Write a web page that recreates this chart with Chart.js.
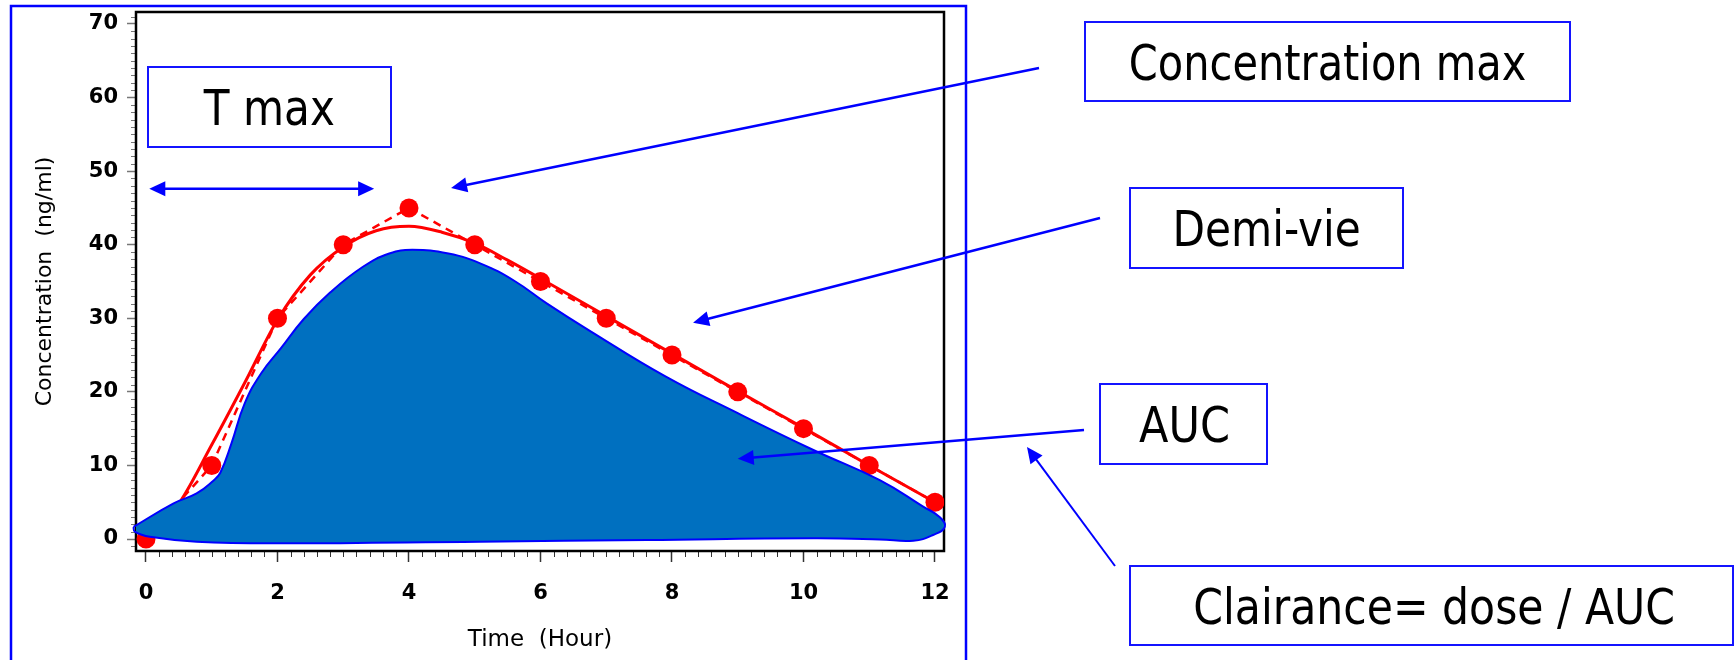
<!DOCTYPE html>
<html>
<head>
<meta charset="utf-8">
<script src="https://cdn.jsdelivr.net/npm/chart.js@4.4.1/dist/chart.umd.min.js"></script>
<style>
  html, body { margin: 0; padding: 0; background: #fff; }
</style>
</head>
<body>
<canvas id="pk" width="1735" height="660"></canvas>
<script>
// Observed concentrations (ng/ml) at each sampling time (hours)
const timeHours = [0, 1, 2, 3, 4, 5, 6, 7, 8, 9, 10, 11, 12];
const concObserved = [0, 10, 30, 40, 45, 40, 35, 30, 25, 20, 15, 10, 5];

// Fitted model curve (solid red)
const fitTime = [0, 0.5, 1, 1.5, 2, 2.5, 3, 3.5, 4, 4.5, 5, 5.5, 6, 7, 8, 9, 10, 11, 12];
const fitConc = [0, 4.8, 12.8, 21.2, 29.8, 35.9, 39.7, 41.9, 42.5, 41.7, 40.2, 37.9, 35.4, 30.3, 25.2, 20.1, 15.1, 10.0, 5.0];

// Hand drawn AUC outline (closed, starts and ends at the left tip)
const aucTime = [-0.19, 0.42, 0.77, 1.02, 1.13, 1.30, 1.50, 1.75, 2.05, 2.40, 2.80, 3.30, 3.70, 4.05, 4.60, 5.10, 5.60, 6.10, 6.75, 7.90, 9.00, 10.15, 11.16, 11.82, 12.07, 12.15,
                 11.97, 11.67, 11.16, 10.15, 7.62, 5.08, 2.04, 0.77, 0.06, -0.17, -0.19];
const aucConc = [1.65, 4.85, 6.2, 7.9, 9.0, 13.0, 18.4, 22.5, 25.9, 29.9, 33.5, 37.0, 38.8, 39.3, 38.8, 37.4, 35.1, 32.0, 28.3, 22.1, 17.1, 12.1, 8.0, 4.4, 3.0, 1.67,
                 0.54, -0.23, -0.05, 0.09, -0.14, -0.36, -0.59, -0.36, 0.3, 1.0, 1.65];

// Axis ticks and ranges
const xTicks = [0, 2, 4, 6, 8, 10, 12];
const yTicks = [0, 10, 20, 30, 40, 50, 60, 70];
const xMin = -0.152, xMax = 12.137;
const yMin = -1.63, yMax = 71.63;

// Labels around the chart
const notes = [
  { text: 'T max', x0: 148, y0: 67, x1: 391, y1: 147, cx: 268.5, base: 125, ink: 131 },
  { text: 'Concentration max', x0: 1085, y0: 22, x1: 1570, y1: 101, cx: 1328, base: 80, ink: 395 },
  { text: 'Demi-vie', x0: 1130, y0: 188, x1: 1403, y1: 268, cx: 1267.5, base: 246, ink: 183 },
  { text: 'AUC', x0: 1100, y0: 384, x1: 1267, y1: 464, cx: 1183.5, base: 442, ink: 89 },
  { text: 'Clairance= dose / AUC', x0: 1130, y0: 566, x1: 1733, y1: 645, cx: 1434, base: 624, ink: 478 }
];

const pts = (xs, ys) => xs.map((x, i) => ({ x, y: ys[i] }));

function head(ctx, x0, y0, x1, y1, len, half) {
  const a = Math.atan2(y1 - y0, x1 - x0);
  const c = Math.cos(a), s = Math.sin(a);
  ctx.beginPath();
  ctx.moveTo(x1, y1);
  ctx.lineTo(x1 - len * c + half * s, y1 - len * s - half * c);
  ctx.lineTo(x1 - len * c - half * s, y1 - len * s + half * c);
  ctx.closePath();
  ctx.fill();
}

function arrow(ctx, x0, y0, x1, y1, w, both) {
  const a = Math.atan2(y1 - y0, x1 - x0);
  const c = Math.cos(a), s = Math.sin(a);
  const len = 16;
  ctx.lineWidth = w;
  ctx.beginPath();
  ctx.moveTo(both ? x0 + len * 0.8 * c : x0, both ? y0 + len * 0.8 * s : y0);
  ctx.lineTo(x1 - len * 0.8 * c, y1 - len * 0.8 * s);
  ctx.stroke();
  head(ctx, x0, y0, x1, y1, len, 7.5);
  if (both) head(ctx, x1, y1, x0, y0, len, 7.5);
}

function boxText(ctx, b) {
  ctx.lineWidth = 2;
  ctx.strokeRect(b.x0, b.y0, b.x1 - b.x0, b.y1 - b.y0);
  ctx.font = '49px "DejaVu Sans", sans-serif';
  ctx.textAlign = 'left';
  ctx.textBaseline = 'alphabetic';
  const m = ctx.measureText(b.text);
  const ink = m.actualBoundingBoxLeft + m.actualBoundingBoxRight;
  ctx.save();
  ctx.translate(b.cx, b.base);
  ctx.scale(b.ink / ink, 1);
  ctx.fillStyle = '#000';
  ctx.fillText(b.text, -(m.actualBoundingBoxRight - m.actualBoundingBoxLeft) / 2, 0);
  ctx.restore();
}

// frame + minor ticks, under the data
const framePlugin = {
  id: 'frame',
  beforeDatasetsDraw(chart) {
    const { ctx, chartArea: a, scales: { x, y } } = chart;
    ctx.save();
    ctx.lineWidth = 1;
    ctx.strokeStyle = '#777';
    for (let v = -1; v <= 71; v++) {
      if (v % 10 === 0) continue;
      const py = Math.round(y.getPixelForValue(v)) + 0.5;
      ctx.beginPath(); ctx.moveTo(a.left - 5, py); ctx.lineTo(a.left, py); ctx.stroke();
    }
    ctx.strokeStyle = '#333';
    for (let i = 0; i <= 60; i++) {
      if (i % 10 === 0) continue;
      const px = Math.round(x.getPixelForValue(i * 0.2)) + 0.5;
      ctx.beginPath(); ctx.moveTo(px, a.bottom); ctx.lineTo(px, a.bottom + 6); ctx.stroke();
    }
    ctx.strokeStyle = '#000';
    ctx.lineWidth = 2.5;
    ctx.strokeRect(a.left, a.top, a.right - a.left, a.bottom - a.top);
    ctx.restore();
  }
};

// slide annotations, on top
const notesPlugin = {
  id: 'notes',
  afterDraw(chart) {
    const { ctx, scales: { x, y } } = chart;
    ctx.save();
    ctx.strokeStyle = '#0000FF';
    ctx.lineWidth = 2.5;
    ctx.strokeRect(11, 6, 955, 700);
    ctx.strokeStyle = '#1414FF';
    notes.forEach(b => boxText(ctx, b));
    ctx.strokeStyle = '#0000FF';
    ctx.fillStyle = '#0000FF';
    arrow(ctx, x.getPixelForValue(0.05), y.getPixelForValue(47.6), x.getPixelForValue(3.47), y.getPixelForValue(47.6), 2.5, true);
    arrow(ctx, 1039, 68, x.getPixelForValue(4.64), y.getPixelForValue(47.7), 2.5, false);
    arrow(ctx, 1100, 218, x.getPixelForValue(8.32), y.getPixelForValue(29.4), 2.5, false);
    arrow(ctx, 1084, 430, x.getPixelForValue(9.0), y.getPixelForValue(10.9), 2.5, false);
    arrow(ctx, 1115, 566, 1027, 447, 2, false);
    ctx.restore();
  }
};

const tickFont = { family: '"DejaVu Sans", sans-serif', size: 21, weight: 'bold' };

new Chart(document.getElementById('pk'), {
  type: 'line',
  data: {
    datasets: [
      {
        label: 'AUC', data: pts(aucTime, aucConc), order: 0,
        fill: 'shape', backgroundColor: '#0070C0', borderColor: '#0000FF', borderWidth: 2,
        tension: 0.45, pointRadius: 0, clip: false
      },
      {
        label: 'Observed', data: pts(timeHours, concObserved), order: 1,
        showLine: false, pointRadius: 9.5, pointBackgroundColor: '#FF0000', pointBorderWidth: 0
      },
      {
        label: 'Fit', data: pts(fitTime, fitConc), order: 2,
        borderColor: '#FF0000', borderWidth: 3, cubicInterpolationMode: 'monotone', pointRadius: 0, fill: false
      },
      {
        label: 'Observed line', data: pts(timeHours, concObserved), order: 3,
        borderColor: '#FF0000', borderWidth: 2.5, borderDash: [8, 6], tension: 0, pointRadius: 0, fill: false
      }
    ]
  },
  options: {
    responsive: false,
    animation: false,
    events: [],
    layout: { padding: { left: 0, top: 12, right: 791, bottom: 0 } },
    plugins: { legend: { display: false }, tooltip: { enabled: false } },
    scales: {
      x: {
        type: 'linear', min: xMin, max: xMax,
        afterBuildTicks: s => { s.ticks = xTicks.map(v => ({ value: v })); },
        afterFit: s => { s.height = 109; s.paddingLeft = 0; s.paddingRight = 0; },
        grid: { drawOnChartArea: false, drawTicks: true, tickLength: 11, tickColor: '#333', tickWidth: 1.5 },
        border: { display: false },
        ticks: { autoSkip: false, maxRotation: 0, padding: 19, color: '#000', font: tickFont },
        title: {
          display: true, text: 'Time  (Hour)', color: '#000',
          font: { family: '"DejaVu Sans", sans-serif', size: 23 }, padding: { top: 0, bottom: 6 }
        }
      },
      y: {
        type: 'linear', min: yMin, max: yMax,
        afterBuildTicks: s => { s.ticks = yTicks.map(v => ({ value: v })); },
        afterFit: s => { s.width = 136; s.paddingTop = 0; s.paddingBottom = 0; },
        grid: { drawOnChartArea: false, drawTicks: true, tickLength: 9, tickColor: '#777', tickWidth: 1.5 },
        border: { display: false },
        ticks: { autoSkip: false, padding: 9, color: '#000', font: tickFont },
        title: {
          display: true, text: 'Concentration  (ng/ml)', color: '#000',
          font: { family: '"DejaVu Sans", sans-serif', size: 22 }, padding: { top: 32, bottom: 0 }
        }
      }
    }
  },
  plugins: [framePlugin, notesPlugin]
});
</script>
</body>
</html>
